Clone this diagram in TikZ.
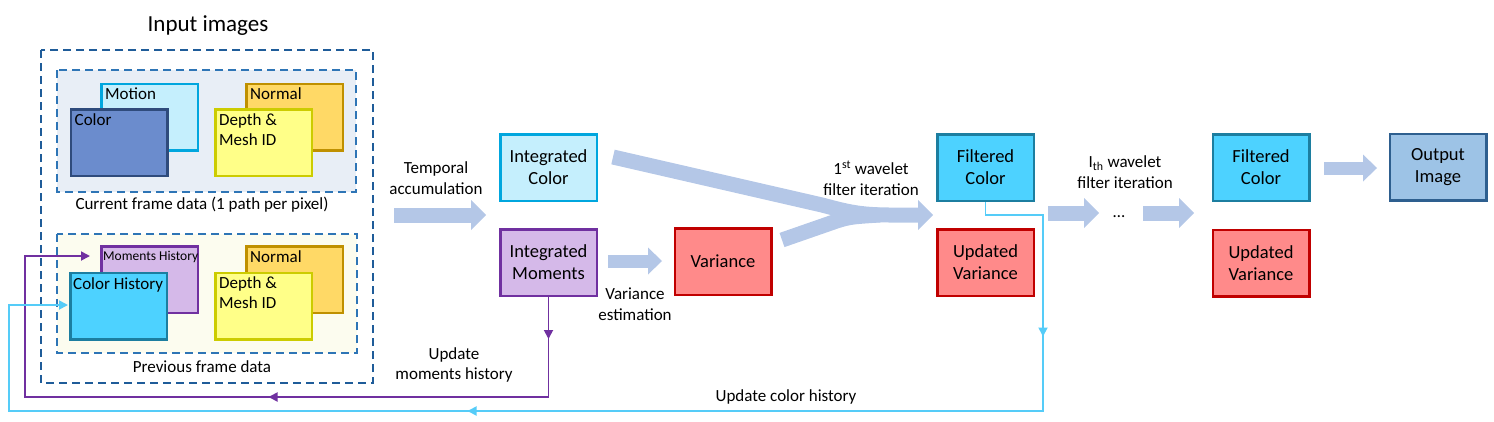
\documentclass[tikz,border=0pt]{standalone}
\usepackage{fontspec}
\setmainfont{Carlito}
\usetikzlibrary{arrows.meta,decorations.markings}
\definecolor{skycyan}{HTML}{C5EFFD}
\definecolor{skyedge}{HTML}{00A6DE}
\definecolor{colfill}{HTML}{6B8CCD}
\definecolor{coledge}{HTML}{2F4B7C}
\definecolor{normfill}{HTML}{FFD966}
\definecolor{normedge}{HTML}{BF9000}
\definecolor{depthfill}{HTML}{FFFF88}
\definecolor{depthedge}{HTML}{CCCC00}
\definecolor{momfill}{HTML}{D5B9E9}
\definecolor{momedge}{HTML}{7030A0}
\definecolor{histfill}{HTML}{4DD2FF}
\definecolor{histedge}{HTML}{1C7EA0}
\definecolor{varfill}{HTML}{FF8A8A}
\definecolor{varedge}{HTML}{C00000}
\definecolor{outfill}{HTML}{9DC3E6}
\definecolor{outedge}{HTML}{2E5F8F}
\definecolor{curbg}{HTML}{E8EEF6}
\definecolor{prevbg}{HTML}{FCFCEF}
\definecolor{dashdark}{HTML}{1F5C99}
\definecolor{dashmid}{HTML}{2E75B6}
\definecolor{fatblue}{HTML}{B4C7E7}
\definecolor{feedcyan}{HTML}{55CCF8}
\begin{document}
\begin{tikzpicture}[x=1pt,y=-1pt,>={Triangle[length=9pt,width=9pt]}]
\tikzstyle{every node}+=[inner sep=0pt, font=\fontsize{18.5}{22}\selectfont]
\tikzstyle{box}=[draw, line width=2.5pt, minimum width=96.5pt, minimum height=66.5pt, align=center]
\tikzstyle{tag}=[anchor=north west, align=left, font=\fontsize{17}{20}\selectfont]
\tikzstyle{note}=[align=center, font=\fontsize{17}{20.5}\selectfont]
\tikzstyle{group}=[dash pattern=on 8pt off 5pt, line width=2pt]
\tikzstyle{fat}=[draw=fatblue, line width=15pt, -{Triangle[length=15pt,width=30pt,line width=0pt]}]
\tikzstyle{slimfat}=[draw=fatblue, line width=13pt, -{Triangle[length=14pt,width=27pt,line width=0pt]}]
\tikzstyle{feed}=[line width=1.8pt, ->]
\useasboundingbox (0,0) rectangle (1494,421);

\node[font=\fontsize{23}{28}\selectfont] (title) at (208,26) {Input images};
\draw[group, draw=dashdark] (41,50) rectangle (373,383);
\draw[group, draw=dashmid, fill=curbg] (57,70) rectangle (356,192);
\draw[group, draw=dashmid, fill=prevbg] (57,234) rectangle (357,353);

\node[box, fill=skycyan, draw=skyedge] (motion) at (149.5,117) {};
\node[tag] (motiontxt) at ([shift={(5pt,-5pt)}]motion.north west) {Motion};
\node[box, fill=colfill, draw=coledge] (color) at (119,142.5) {};
\node[tag] (colortxt) at ([shift={(5pt,-5pt)}]color.north west) {Color};
\node[box, fill=normfill, draw=normedge] (normal) at (294.5,117) {};
\node[tag] (normaltxt) at ([shift={(5pt,-5pt)}]normal.north west) {Normal};
\node[box, fill=depthfill, draw=depthedge] (depth) at (263.5,142.5) {};
\node[tag] (depthtxt) at ([shift={(5pt,-5pt)}]depth.north west) {Depth \&\\Mesh ID};
\node[note] (curcap) at (202,205) {Current frame data (1 path per pixel)};

\node[box, fill=momfill, draw=momedge] (momhist) at (149.5,279.5) {};
\node[tag, font=\fontsize{13.5}{16}\selectfont] (momhisttxt) at ([shift={(3pt,-6pt)}]momhist.north west) {Moments History};
\node[box, fill=histfill, draw=histedge] (colhist) at (118.5,306) {};
\node[tag] (colhisttxt) at ([shift={(4pt,-6pt)}]colhist.north west) {Color History};
\node[box, fill=normfill, draw=normedge] (prevnormal) at (294.5,279.5) {};
\node[tag] (prevnormaltxt) at ([shift={(5pt,-5pt)}]prevnormal.north west) {Normal};
\node[box, fill=depthfill, draw=depthedge] (prevdepth) at (263.5,306) {};
\node[tag] (prevdepthtxt) at ([shift={(5pt,-5pt)}]prevdepth.north west) {Depth \&\\Mesh ID};
\node[note] (prevcap) at (202,367) {Previous frame data};

\node[box, fill=skycyan, draw=skyedge] (intcolor) at (548.5,167.5) {Integrated\\Color};
\node[box, fill=momfill, draw=momedge] (intmom) at (548.5,262.5) {Integrated\\Moments};
\node[box, fill=varfill, draw=varedge] (variance) at (723,261.5) {Variance};
\node[box, fill=histfill, draw=histedge] (filtcol) at (985.5,167.5) {Filtered\\Color};
\node[box, fill=varfill, draw=varedge] (updvar) at (985.5,262.5) {Updated\\Variance};
\node[box, fill=histfill, draw=histedge] (lastcol) at (1261,167.5) {Filtered\\Color};
\node[box, fill=varfill, draw=varedge] (lastvar) at (1261,263) {Updated\\Variance};
\node[box, fill=outfill, draw=outedge] (output) at (1438,167) {Output\\Image};

\node[note] (temporal) at (436,178) {Temporal\\accumulation};
\node[note] (varest) at (635,304) {Variance\\estimation};
\node[note] (updmom) at (454,365) {Update\\moments history};
\node[note] (firstwave) at (871,178) {1\textsuperscript{st} wavelet\\filter iteration};
\node[note] (lastwave) at (1125,172) {I\textsubscript{th} wavelet\\filter iteration};
\node[note, anchor=base] (dots) at (1119,217) {\dots};
\node[note] (updcol) at (786,397) {Update color history};

\draw[fat] (394,215) -- (486,215);
\draw[slimfat] (608,261) -- (662,261);
\draw[draw=fatblue, line width=15pt] (782,240) -- (828,224) .. controls (848,217) .. (880,215);
\draw[fat] (613,157) -- (822,205) .. controls (845,211) and (858,215) .. (890,215) -- (933,215);
\draw[fat] (1048,213) -- (1099,213);
\draw[fat] (1143,213) -- (1194,213);
\draw[slimfat] (1324,168) -- (1377,168);

\coordinate (mhin) at (90,256);
\coordinate (chin) at (68,305);
\draw[feed, draw=momedge, postaction={decorate, decoration={markings,
  mark=at position 42pt with {\arrow{>}}, mark=at position 380pt with {\arrow{>}}}}]
  (intmom.south) |- (25,397) |- (mhin);
\draw[feed, draw=feedcyan, postaction={decorate, decoration={markings,
  mark=at position 192pt with {\arrow{>}}, mark=at position 842pt with {\arrow{>}}}}]
  (filtcol.south) -- ++(0,13) -| (1043,411) -| (9,305) -- (chin);
\end{tikzpicture}
\end{document}
